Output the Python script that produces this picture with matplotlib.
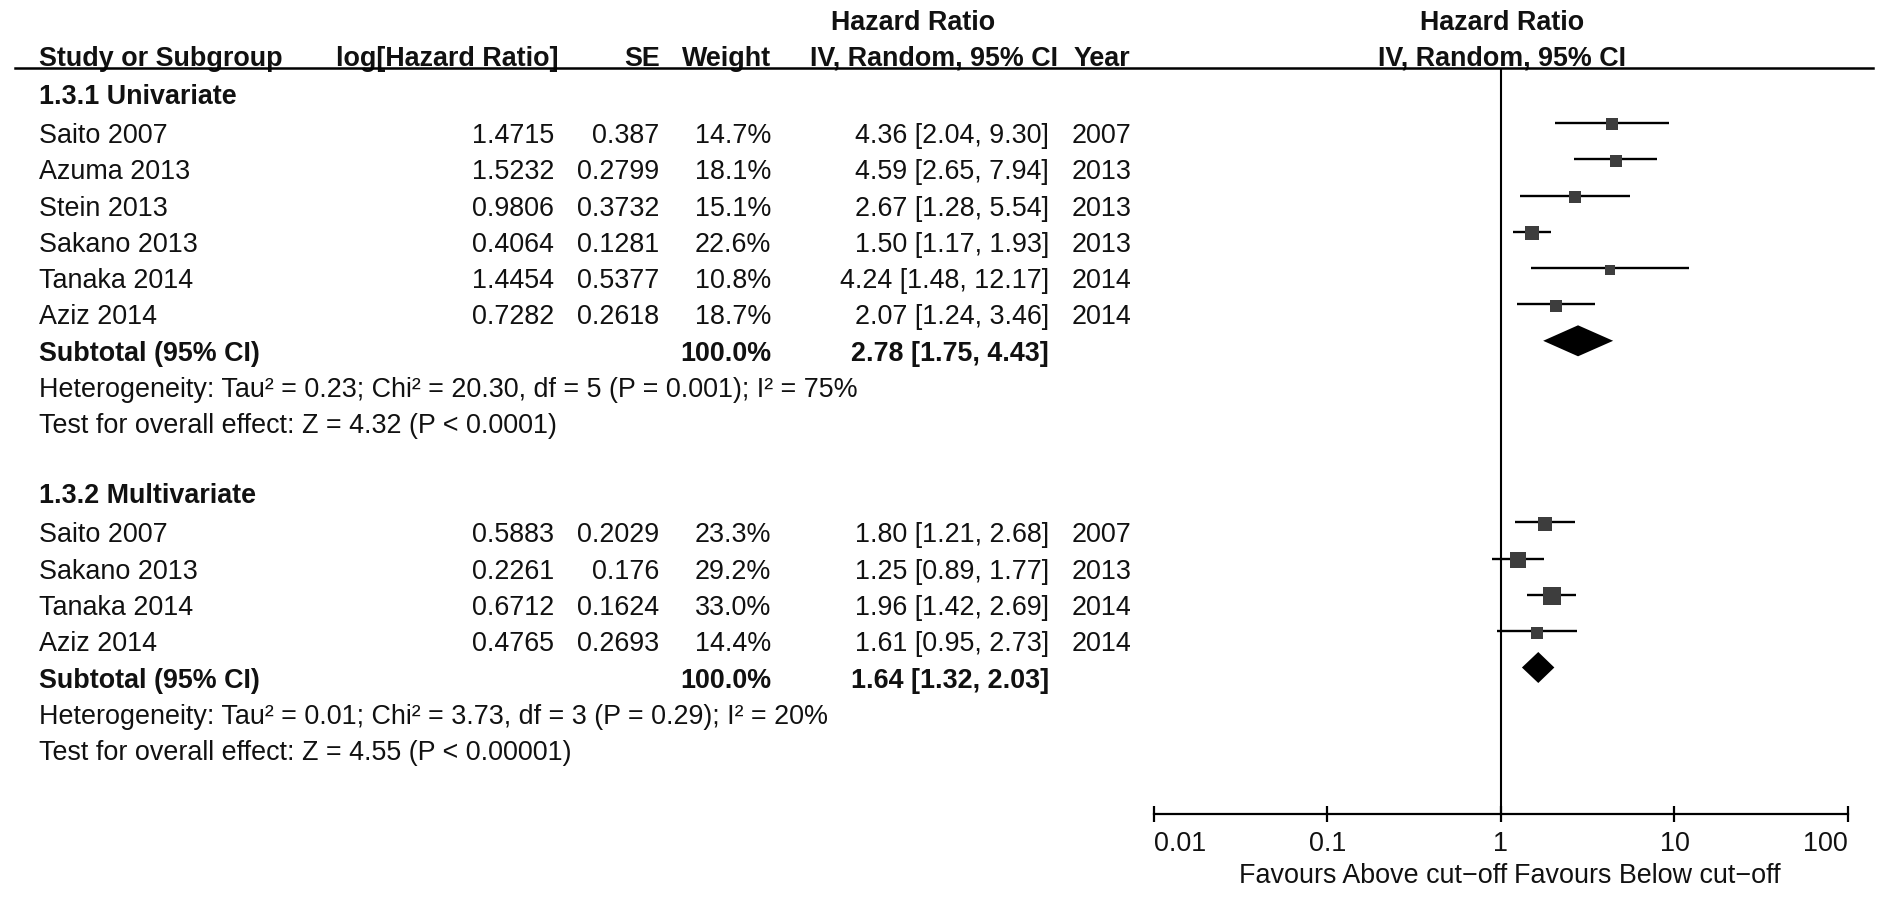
import numpy as np
import matplotlib
matplotlib.use("Agg")
import matplotlib.pyplot as plt
from matplotlib.ticker import NullLocator

plt.rcParams['font.family'] = ['Liberation Sans', 'DejaVu Sans']

# data
uni_study = ['Saito 2007', 'Azuma 2013', 'Stein 2013', 'Sakano 2013', 'Tanaka 2014', 'Aziz 2014']
uni_loghr = ['1.4715', '1.5232', '0.9806', '0.4064', '1.4454', '0.7282']
uni_se = ['0.387', '0.2799', '0.3732', '0.1281', '0.5377', '0.2618']
uni_weight = [14.7, 18.1, 15.1, 22.6, 10.8, 18.7]
uni_hr = [4.36, 4.59, 2.67, 1.50, 4.24, 2.07]
uni_lo = [2.04, 2.65, 1.28, 1.17, 1.48, 1.24]
uni_hi = [9.30, 7.94, 5.54, 1.93, 12.17, 3.46]
uni_year = [2007, 2013, 2013, 2013, 2014, 2014]
uni_total = [2.78, 1.75, 4.43]
uni_het = 'Heterogeneity: Tau² = 0.23; Chi² = 20.30, df = 5 (P = 0.001); I² = 75%'
uni_test = 'Test for overall effect: Z = 4.32 (P < 0.0001)'

multi_study = ['Saito 2007', 'Sakano 2013', 'Tanaka 2014', 'Aziz 2014']
multi_loghr = ['0.5883', '0.2261', '0.6712', '0.4765']
multi_se = ['0.2029', '0.176', '0.1624', '0.2693']
multi_weight = [23.3, 29.2, 33.0, 14.4]
multi_hr = [1.80, 1.25, 1.96, 1.61]
multi_lo = [1.21, 0.89, 1.42, 0.95]
multi_hi = [2.68, 1.77, 2.69, 2.73]
multi_year = [2007, 2013, 2014, 2014]
multi_total = [1.64, 1.32, 2.03]
multi_het = 'Heterogeneity: Tau² = 0.01; Chi² = 3.73, df = 3 (P = 0.29); I² = 20%'
multi_test = 'Test for overall effect: Z = 4.55 (P < 0.00001)'

tick_vals = [0.01, 0.1, 1, 10, 100]
tick_labels = ['0.01', '0.1', '1', '10', '100']

W, H = 1890, 897
FS = 19.4
TXT = '#111111'

fig = plt.figure(figsize=(W / 100, H / 100), dpi=100)
ax = fig.add_axes([0, 0, 1, 1])
ax.set_xlim(0, W)
ax.set_ylim(H, 0)
ax.axis('off')

# forest panel, data y in pixel rows
top, bottom, left, right = 68, 814, 1154, 1848
fax = fig.add_axes([left / W, (H - bottom) / H, (right - left) / W, (bottom - top) / H])
fax.set_xscale('log')
fax.set_xlim(0.01, 100)
fax.set_ylim(bottom, top)
fax.patch.set_visible(False)
for s in ['top', 'left', 'right']:
    fax.spines[s].set_visible(False)
fax.spines['bottom'].set_linewidth(1.6)
fax.set_xticks(tick_vals)
fax.set_xticklabels(tick_labels)
fax.xaxis.set_minor_locator(NullLocator())
fax.set_yticks([])
fax.tick_params(axis='x', direction='inout', length=12, width=1.6,
                labelsize=FS, pad=6, labelcolor=TXT)
lbls = fax.get_xticklabels()
lbls[0].set_ha('left')
lbls[-1].set_ha('right')
fax.axvline(1, color='black', lw=1.5)

# headers
ax.text(913, 30, 'Hazard Ratio', fontsize=FS, weight='bold', ha='center', color=TXT)
ax.text(1502, 30, 'Hazard Ratio', fontsize=FS, weight='bold', ha='center', color=TXT)
hdr_y = 66
ax.text(39, hdr_y, 'Study or Subgroup', fontsize=FS, weight='bold', ha='left', color=TXT)
ax.text(558, hdr_y, 'log[Hazard Ratio]', fontsize=FS, weight='bold', ha='right', color=TXT)
ax.text(660, hdr_y, 'SE', fontsize=FS, weight='bold', ha='right', color=TXT)
ax.text(771, hdr_y, 'Weight', fontsize=FS, weight='bold', ha='right', color=TXT)
ax.text(934, hdr_y, 'IV, Random, 95% CI', fontsize=FS, weight='bold', ha='center', color=TXT)
ax.text(1074, hdr_y, 'Year', fontsize=FS, weight='bold', ha='left', color=TXT)
ax.text(1502, hdr_y, 'IV, Random, 95% CI', fontsize=FS, weight='bold', ha='center', color=TXT)
ax.plot([15, 1873], [68, 68], color='black', lw=1.8, zorder=5)

pitch = 36.3
base0 = 143


def draw_group(start, title, study, loghr, se, weight, hr, lo, hi, year, total, het, test):
    ax.text(39, base0 + pitch * (start - 1) - 3, title, fontsize=FS, weight='bold', color=TXT)
    for i in range(len(study)):
        yb = base0 + pitch * (start + i)
        ax.text(39, yb, study[i], fontsize=FS, color=TXT)
        ax.text(554, yb, loghr[i], fontsize=FS, ha='right', color=TXT)
        ax.text(659, yb, se[i], fontsize=FS, ha='right', color=TXT)
        ax.text(771, yb, f'{weight[i]:.1f}%', fontsize=FS, ha='right', color=TXT)
        ax.text(1049, yb, f'{hr[i]:.2f} [{lo[i]:.2f}, {hi[i]:.2f}]', fontsize=FS,
                ha='right', color=TXT)
        ax.text(1072, yb, str(year[i]), fontsize=FS, ha='left', color=TXT)
        ym = yb - 20
        fax.hlines(ym, lo[i], hi[i], color='black', lw=1.7)
        side = 3.0 * np.sqrt(weight[i])
        fax.plot(hr[i], ym + 1.5, marker='s', markersize=side * 0.72,
                 color='#3d3d3d', markeredgewidth=0, zorder=4)
    n = len(study)
    yb = base0 + pitch * (start + n)
    ax.text(39, yb, 'Subtotal (95% CI)', fontsize=FS, weight='bold', color=TXT)
    ax.text(771, yb, '100.0%', fontsize=FS, weight='bold', ha='right', color=TXT)
    ax.text(1049, yb, f'{total[0]:.2f} [{total[1]:.2f}, {total[2]:.2f}]', fontsize=FS,
            weight='bold', ha='right', color=TXT)
    ym = yb - 20
    fax.fill([total[1], total[0], total[2], total[0]],
             [ym, ym - 15.5, ym, ym + 15.5], color='black', lw=0, zorder=4)
    ax.text(39, base0 + pitch * (start + n + 1), het, fontsize=FS, color=TXT)
    ax.text(39, base0 + pitch * (start + n + 2), test, fontsize=FS, color=TXT)


draw_group(0, '1.3.1 Univariate', uni_study, uni_loghr, uni_se, uni_weight, uni_hr,
           uni_lo, uni_hi, uni_year, uni_total, uni_het, uni_test)
draw_group(11, '1.3.2 Multivariate', multi_study, multi_loghr, multi_se, multi_weight,
           multi_hr, multi_lo, multi_hi, multi_year, multi_total, multi_het, multi_test)

ax.text(1507, 883, 'Favours Above cut\u2212off', fontsize=FS, ha='right', color=TXT)
ax.text(1514, 883, 'Favours Below cut\u2212off', fontsize=FS, ha='left', color=TXT)

fig.savefig('out.png', dpi=100)
